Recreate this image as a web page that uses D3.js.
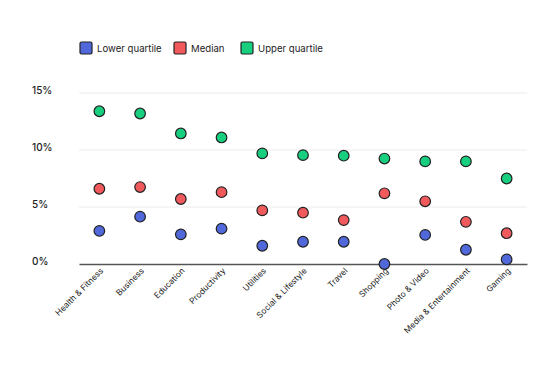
<!DOCTYPE html>
<html>
<head>
<meta charset="utf-8">
<script src="https://cdn.jsdelivr.net/npm/d3@7"></script>
<style>
  body { margin: 0; background: #fff; }
  text { font-family: Inter, "Noto Sans", sans-serif; fill: #222; }
</style>
</head>
<body>
<div id="chart"></div>
<script>
// Data
var categories = ["Health & Fitness", "Business", "Education", "Productivity", "Utilities",
  "Social & Lifestyle", "Travel", "Shopping", "Photo & Video", "Media & Entertainment", "Gaming"];
var lowerQuartile = [2.9, 4.15, 2.6, 3.1, 1.6, 1.95, 1.95, 0.0, 2.55, 1.25, 0.4];
var median        = [6.6, 6.75, 5.7, 6.3, 4.7, 4.5, 3.85, 6.2, 5.5, 3.7, 2.7];
var upperQuartile = [13.4, 13.2, 11.45, 11.1, 9.7, 9.55, 9.5, 9.25, 9.0, 9.0, 7.5];
var yTicks = [0, 5, 10, 15];

var series = [
  {name: "Lower quartile", values: lowerQuartile, color: "#5068da"},
  {name: "Median", values: median, color: "#f05a5c"},
  {name: "Upper quartile", values: upperQuartile, color: "#17cf7e"}
];

var width = 560, height = 365;
var margin = {top: 93, right: 33, bottom: 101, left: 79};
var innerW = width - margin.left - margin.right;
var innerH = height - margin.top - margin.bottom;

var svg = d3.select("#chart").append("svg")
    .attr("width", width)
    .attr("height", height);

var x = d3.scaleBand()
    .domain(categories)
    .range([0, innerW])
    .padding(0);

var y = d3.scaleLinear()
    .domain([0, 15])
    .range([innerH, 0]);

var g = svg.append("g")
    .attr("transform", "translate(" + margin.left + "," + margin.top + ")");

// gridlines
g.append("g").selectAll("line")
    .data(yTicks.filter(function(d) { return d > 0; }))
    .enter().append("line")
    .attr("x1", 0)
    .attr("x2", innerW)
    .attr("y1", function(d) { return y(d); })
    .attr("y2", function(d) { return y(d); })
    .attr("stroke", "#ececec")
    .attr("stroke-width", 1);

// y labels
svg.append("g").selectAll("text")
    .data(yTicks)
    .enter().append("text")
    .attr("x", 32)
    .attr("y", function(d) { return margin.top + y(d) + 1; })
    .style("font-size", "10px")
    .style("font-weight", "500")
    .text(function(d) { return d + "%"; });

// x axis
var xAxis = d3.axisBottom(x).tickSize(0);
var xg = g.append("g")
    .attr("transform", "translate(0," + innerH + ")")
    .call(xAxis);
xg.select(".domain").attr("stroke", "#555").attr("stroke-width", 1.5);
xg.selectAll("text")
    .style("font-size", "8.3px")
    .style("font-family", "Inter, 'Noto Sans', sans-serif")
    .attr("fill", "#222")
    .attr("text-anchor", "end")
    .attr("y", 0)
    .attr("dx", "-0.25em")
    .attr("dy", "1em")
    .attr("transform", "rotate(-45)");

// dots
series.forEach(function(s) {
  g.append("g").selectAll("circle")
      .data(s.values)
      .enter().append("circle")
      .attr("cx", function(d, i) { return x(categories[i]) + x.bandwidth() / 2; })
      .attr("cy", function(d) { return y(d); })
      .attr("r", 5.3)
      .attr("fill", s.color)
      .attr("stroke", "#222")
      .attr("stroke-width", 1.2);
});

// legend
var legendX = [80, 174, 241];
var legend = svg.append("g").selectAll("g")
    .data(series)
    .enter().append("g")
    .attr("transform", function(d, i) { return "translate(" + legendX[i] + ",42)"; });
legend.append("rect")
    .attr("width", 12)
    .attr("height", 12)
    .attr("rx", 1.5)
    .attr("fill", function(d) { return d.color; })
    .attr("stroke", "#222")
    .attr("stroke-width", 1.2);
legend.append("text")
    .attr("x", 17)
    .attr("y", 10)
    .style("font-size", "9.6px")
    .attr("fill", "#333")
    .text(function(d) { return d.name; });
</script>
</body>
</html>
